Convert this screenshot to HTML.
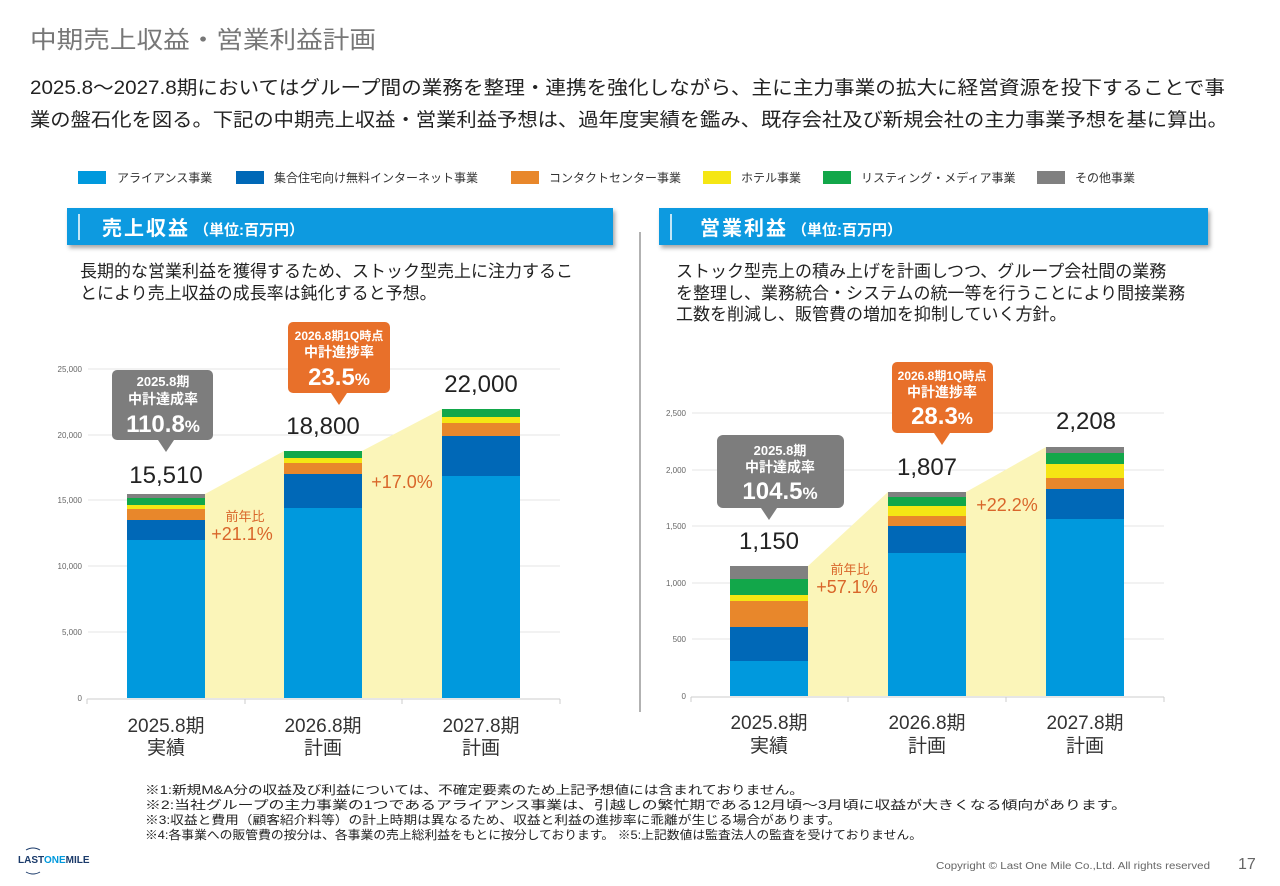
<!DOCTYPE html>
<html><head><meta charset="utf-8"><style>
html,body{margin:0;padding:0;background:#fff;}
svg{display:block;font-family:"Liberation Sans","Noto Sans CJK JP",sans-serif;}
</style></head><body>
<svg width="1280" height="886" viewBox="0 0 1280 886" xmlns="http://www.w3.org/2000/svg">
<defs><filter id="sh" x="-5%" y="-30%" width="110%" height="170%"><feDropShadow dx="2" dy="3" stdDeviation="2" flood-color="#000" flood-opacity="0.35"/></filter></defs>
<rect width="1280" height="886" fill="#fff"/>
<text x="30" y="48" font-size="24" fill="#777" textLength="346" lengthAdjust="spacingAndGlyphs">中期売上収益・営業利益計画</text>
<text x="30" y="94" font-size="19" fill="#222" textLength="1195" lengthAdjust="spacingAndGlyphs">2025.8～2027.8期においてはグループ間の業務を整理・連携を強化しながら、主に主力事業の拡大に経営資源を投下することで事</text>
<text x="30" y="126" font-size="19" fill="#222" textLength="1198" lengthAdjust="spacingAndGlyphs">業の盤石化を図る。下記の中期売上収益・営業利益予想は、過年度実績を鑑み、既存会社及び新規会社の主力事業予想を基に算出。</text>
<!-- legend -->
<g font-size="12" fill="#333">
<rect x="78" y="171" width="28" height="13" fill="#0099dd"/><text x="117" y="182">アライアンス事業</text>
<rect x="236" y="171" width="28" height="13" fill="#0068b7"/><text x="274" y="182">集合住宅向け無料インターネット事業</text>
<rect x="511" y="171" width="28" height="13" fill="#e8872b"/><text x="549" y="182">コンタクトセンター事業</text>
<rect x="703" y="171" width="28" height="13" fill="#f5e614"/><text x="741" y="182">ホテル事業</text>
<rect x="823" y="171" width="28" height="13" fill="#12a74a"/><text x="861" y="182">リスティング・メディア事業</text>
<rect x="1037" y="171" width="28" height="13" fill="#808080"/><text x="1075" y="182">その他事業</text>
</g>
<!-- headers -->
<rect x="67" y="208" width="546" height="37" fill="#0a9ae0" filter="url(#sh)"/>
<line x1="79" y1="214" x2="79" y2="240" stroke="#fff" stroke-width="1.5"/>
<text x="102" y="235" font-size="20" font-weight="bold" fill="#fff" letter-spacing="2">売上収益<tspan font-size="15" dx="4" letter-spacing="0">（単位:百万円）</tspan></text>
<rect x="659" y="208" width="549" height="37" fill="#0a9ae0" filter="url(#sh)"/>
<line x1="671" y1="214" x2="671" y2="240" stroke="#fff" stroke-width="1.5"/>
<text x="700" y="235" font-size="20" font-weight="bold" fill="#fff" letter-spacing="2">営業利益<tspan font-size="15" dx="4" letter-spacing="0">（単位:百万円）</tspan></text>
<line x1="640" y1="232" x2="640" y2="712" stroke="#999" stroke-width="1.5"/>
<!-- descriptions -->
<g font-size="17" fill="#222">
<text x="80" y="277">長期的な営業利益を獲得するため、ストック型売上に注力するこ</text>
<text x="80" y="299">とにより売上収益の成長率は鈍化すると予想。</text>
<text x="676" y="277">ストック型売上の積み上げを計画しつつ、グループ会社間の業務</text>
<text x="676" y="299">を整理し、業務統合・システムの統一等を行うことにより間接業務</text>
<text x="676" y="320">工数を削減し、販管費の増加を抑制していく方針。</text>
</g>
<!-- LEFT CHART -->
<g stroke="#e6e6e6" stroke-width="1">
<line x1="88" y1="369" x2="560" y2="369"/><line x1="88" y1="435" x2="560" y2="435"/>
<line x1="88" y1="500" x2="560" y2="500"/><line x1="88" y1="566" x2="560" y2="566"/>
<line x1="88" y1="632" x2="560" y2="632"/>
</g>
<g font-size="8" fill="#666" text-anchor="end">
<text x="82" y="372">25,000</text><text x="82" y="438">20,000</text><text x="82" y="503">15,000</text>
<text x="82" y="569">10,000</text><text x="82" y="635">5,000</text><text x="82" y="701">0</text>
</g>
<polygon points="205,494 284,451 284,698 205,698" fill="#fbf5b9"/>
<polygon points="362,451 442,409 442,698 362,698" fill="#fbf5b9"/>
<g>
<rect x="127" y="494" width="78" height="4" fill="#808080"/>
<rect x="127" y="498" width="78" height="7" fill="#12a74a"/>
<rect x="127" y="505" width="78" height="4" fill="#f5e614"/>
<rect x="127" y="509" width="78" height="11" fill="#e8872b"/>
<rect x="127" y="520" width="78" height="20" fill="#0068b7"/>
<rect x="127" y="540" width="78" height="158" fill="#0099dd"/>
<rect x="284" y="451" width="78" height="7" fill="#12a74a"/>
<rect x="284" y="458" width="78" height="5" fill="#f5e614"/>
<rect x="284" y="463" width="78" height="11" fill="#e8872b"/>
<rect x="284" y="474" width="78" height="34" fill="#0068b7"/>
<rect x="284" y="508" width="78" height="190" fill="#0099dd"/>
<rect x="442" y="409" width="78" height="8" fill="#12a74a"/>
<rect x="442" y="417" width="78" height="6" fill="#f5e614"/>
<rect x="442" y="423" width="78" height="13" fill="#e8872b"/>
<rect x="442" y="436" width="78" height="40" fill="#0068b7"/>
<rect x="442" y="476" width="78" height="222" fill="#0099dd"/>
</g>
<line x1="87" y1="699" x2="560" y2="699" stroke="#ccc"/>
<g stroke="#ccc"><line x1="87" y1="699" x2="87" y2="704"/><line x1="245" y1="699" x2="245" y2="704"/><line x1="402" y1="699" x2="402" y2="704"/><line x1="560" y1="699" x2="560" y2="704"/></g>
<g font-size="24" fill="#222" text-anchor="middle">
<text x="166" y="483">15,510</text><text x="323" y="434">18,800</text><text x="481" y="392">22,000</text>
</g>
<g fill="#d9662a" text-anchor="middle">
<text x="245" y="521" font-size="13">前年比</text><text x="242" y="540" font-size="18">+21.1%</text>
<text x="402" y="488" font-size="18">+17.0%</text>
</g>
<g font-size="19" fill="#333" text-anchor="middle">
<text x="166" y="732">2025.8期</text><text x="166" y="754">実績</text>
<text x="323" y="732">2026.8期</text><text x="323" y="754">計画</text>
<text x="481" y="732">2027.8期</text><text x="481" y="754">計画</text>
</g>
<!-- left callouts -->
<rect x="112" y="370" width="101" height="70" rx="5" fill="#7d7d7d"/>
<polygon points="158,440 174,440 166,452" fill="#7d7d7d"/>
<g fill="#fff" font-weight="bold" text-anchor="middle">
<text x="163" y="386" font-size="13">2025.8期</text>
<text x="163" y="404" font-size="14">中計達成率</text>
<text x="163" y="432" font-size="24">110.8<tspan font-size="17">%</tspan></text>
</g>
<rect x="288" y="322" width="102" height="71" rx="5" fill="#e8702a"/>
<polygon points="331,393 347,393 339,405" fill="#e8702a"/>
<g fill="#fff" font-weight="bold" text-anchor="middle">
<text x="339" y="340" font-size="12">2026.8期1Q時点</text>
<text x="339" y="357" font-size="14">中計進捗率</text>
<text x="339" y="385" font-size="24">23.5<tspan font-size="17">%</tspan></text>
</g>
<!-- RIGHT CHART -->
<g stroke="#e6e6e6" stroke-width="1">
<line x1="692" y1="413" x2="1164" y2="413"/><line x1="692" y1="470" x2="1164" y2="470"/>
<line x1="692" y1="526" x2="1164" y2="526"/><line x1="692" y1="583" x2="1164" y2="583"/>
<line x1="692" y1="639" x2="1164" y2="639"/>
</g>
<g font-size="8" fill="#666" text-anchor="end">
<text x="686" y="416">2,500</text><text x="686" y="473">2,000</text><text x="686" y="529">1,500</text>
<text x="686" y="586">1,000</text><text x="686" y="642">500</text><text x="686" y="699">0</text>
</g>
<polygon points="808,566 888,492 888,696 808,696" fill="#fbf5b9"/>
<polygon points="966,492 1046,447 1046,696 966,696" fill="#fbf5b9"/>
<g>
<rect x="730" y="566" width="78" height="13" fill="#808080"/>
<rect x="730" y="579" width="78" height="16" fill="#12a74a"/>
<rect x="730" y="595" width="78" height="6" fill="#f5e614"/>
<rect x="730" y="601" width="78" height="26" fill="#e8872b"/>
<rect x="730" y="627" width="78" height="34" fill="#0068b7"/>
<rect x="730" y="661" width="78" height="35" fill="#0099dd"/>
<rect x="888" y="492" width="78" height="5" fill="#808080"/>
<rect x="888" y="497" width="78" height="9" fill="#12a74a"/>
<rect x="888" y="506" width="78" height="10" fill="#f5e614"/>
<rect x="888" y="516" width="78" height="10" fill="#e8872b"/>
<rect x="888" y="526" width="78" height="27" fill="#0068b7"/>
<rect x="888" y="553" width="78" height="143" fill="#0099dd"/>
<rect x="1046" y="447" width="78" height="6" fill="#808080"/>
<rect x="1046" y="453" width="78" height="11" fill="#12a74a"/>
<rect x="1046" y="464" width="78" height="14" fill="#f5e614"/>
<rect x="1046" y="478" width="78" height="11" fill="#e8872b"/>
<rect x="1046" y="489" width="78" height="30" fill="#0068b7"/>
<rect x="1046" y="519" width="78" height="177" fill="#0099dd"/>
</g>
<line x1="691" y1="697" x2="1164" y2="697" stroke="#ccc"/>
<g stroke="#ccc"><line x1="691" y1="697" x2="691" y2="702"/><line x1="848" y1="697" x2="848" y2="702"/><line x1="1006" y1="697" x2="1006" y2="702"/><line x1="1164" y1="697" x2="1164" y2="702"/></g>
<g font-size="24" fill="#222" text-anchor="middle">
<text x="769" y="549">1,150</text><text x="927" y="475">1,807</text><text x="1086" y="429">2,208</text>
</g>
<g fill="#d9662a" text-anchor="middle">
<text x="850" y="574" font-size="13">前年比</text><text x="847" y="593" font-size="18">+57.1%</text>
<text x="1007" y="511" font-size="18">+22.2%</text>
</g>
<g font-size="19" fill="#333" text-anchor="middle">
<text x="769" y="729">2025.8期</text><text x="769" y="752">実績</text>
<text x="927" y="729">2026.8期</text><text x="927" y="752">計画</text>
<text x="1085" y="729">2027.8期</text><text x="1085" y="752">計画</text>
</g>
<rect x="717" y="435" width="127" height="73" rx="6" fill="#7d7d7d"/>
<polygon points="761,508 777,508 769,520" fill="#7d7d7d"/>
<g fill="#fff" font-weight="bold" text-anchor="middle">
<text x="780" y="455" font-size="13">2025.8期</text>
<text x="780" y="472" font-size="14">中計達成率</text>
<text x="780" y="499" font-size="24">104.5<tspan font-size="17">%</tspan></text>
</g>
<rect x="892" y="362" width="101" height="71" rx="5" fill="#e8702a"/>
<polygon points="934,433 950,433 942,445" fill="#e8702a"/>
<g fill="#fff" font-weight="bold" text-anchor="middle">
<text x="942" y="380" font-size="12">2026.8期1Q時点</text>
<text x="942" y="397" font-size="14">中計進捗率</text>
<text x="942" y="424" font-size="24">28.3<tspan font-size="17">%</tspan></text>
</g>
<!-- footnotes -->
<g font-size="12" fill="#222">
<text x="145" y="794" textLength="659" lengthAdjust="spacingAndGlyphs">※1:新規M&amp;A分の収益及び利益については、不確定要素のため上記予想値には含まれておりません。</text>
<text x="145" y="809" textLength="982" lengthAdjust="spacingAndGlyphs">※2:当社グループの主力事業の1つであるアライアンス事業は、引越しの繁忙期である12月頃～3月頃に収益が大きくなる傾向があります。</text>
<text x="145" y="824" textLength="696" lengthAdjust="spacingAndGlyphs">※3:収益と費用（顧客紹介料等）の計上時期は異なるため、収益と利益の進捗率に乖離が生じる場合があります。</text>
<text x="145" y="839" textLength="777" lengthAdjust="spacingAndGlyphs">※4:各事業への販管費の按分は、各事業の売上総利益をもとに按分しております。 ※5:上記数値は監査法人の監査を受けておりません。</text>
</g>
<path d="M26,850 q7,-4 14,0" fill="none" stroke="#1a3a6a" stroke-width="1"/>
<text x="18" y="863" font-size="10" font-weight="bold" fill="#1a3a6a">LAST<tspan fill="#0099dd">ONE</tspan>MILE</text>
<path d="M26,872 q7,4 14,0" fill="none" stroke="#1a3a6a" stroke-width="1"/>
<text x="936" y="869" font-size="10" fill="#666" textLength="274" lengthAdjust="spacingAndGlyphs">Copyright © Last One Mile Co.,Ltd. All rights reserved</text>
<text x="1238" y="869" font-size="16" fill="#666">17</text>
</svg>
</body></html>
